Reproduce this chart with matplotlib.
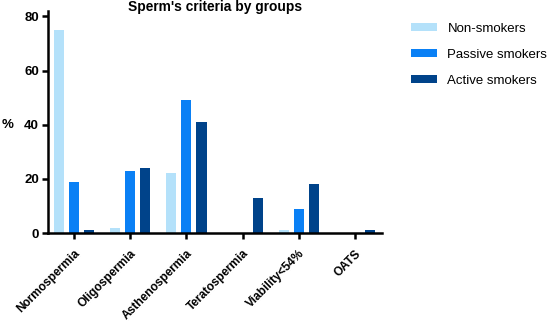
"""
Sperm's criteria by groups - grouped bar chart.
"""
import numpy as np
import matplotlib
matplotlib.use("Agg")
import matplotlib.pyplot as plt

plt.rcParams['font.family'] = ['Liberation Sans', 'DejaVu Sans']

categories = ["Normospermia", "Oligospermia", "Asthenospermia",
              "Teratospermia", "Viability<54%", "OATS"]
groups = ["Non-smokers", "Passive smokers", "Active smokers"]
non_smokers = [75, 2, 22, 0, 1, 0]
passive_smokers = [19, 23, 49, 0, 9, 0]
active_smokers = [1, 24, 41, 13, 18, 1]
colors = ["#B4E1FA", "#0A80F5", "#00438A"]

fig = plt.figure(figsize=(5.5, 3.23), dpi=100)
ax = fig.add_axes([0.0873, 0.2786, 0.6072, 0.6874])

x = np.arange(len(categories))
width = 0.18
offset = 0.27
for i, (vals, label) in enumerate(zip([non_smokers, passive_smokers, active_smokers], groups)):
    ax.bar(x + (i - 1) * offset, vals, width, color=colors[i], label=label)

ax.set_xlim(-0.46, 5.48)
ax.set_ylim(0, 82)
ax.set_yticks([0, 20, 40, 60, 80])
ax.set_xticks(x)
ax.set_xticklabels(categories, rotation=45, ha='right', rotation_mode='anchor',
                   fontweight='bold', fontsize=8.6)
for lbl in ax.get_yticklabels():
    lbl.set_fontweight('bold')
    lbl.set_fontsize(9.5)

for side in ['top', 'right']:
    ax.spines[side].set_visible(False)
for side in ['left', 'bottom']:
    ax.spines[side].set_linewidth(1.8)
ax.tick_params(axis='both', direction='out', width=1.8, length=4.5, pad=2)
ax.tick_params(axis='x', pad=6)

# title and "%" placed in figure pixels
fig.text(0.3909, 1 - 11 / 323, "Sperm's criteria by groups", fontweight='bold',
         fontsize=9.9, ha='center', va='baseline')
fig.text(8 / 550, 1 - 125 / 323, "%", fontweight='bold', fontsize=9.5,
         ha='center', va='center')

ax.legend(loc='upper left', bbox_to_anchor=(1.05, 1.0), frameon=False,
          fontsize=9.5, handlelength=2.0, handleheight=0.5, labelspacing=1.05)

plt.savefig("out.png", dpi=100)
plt.close()
